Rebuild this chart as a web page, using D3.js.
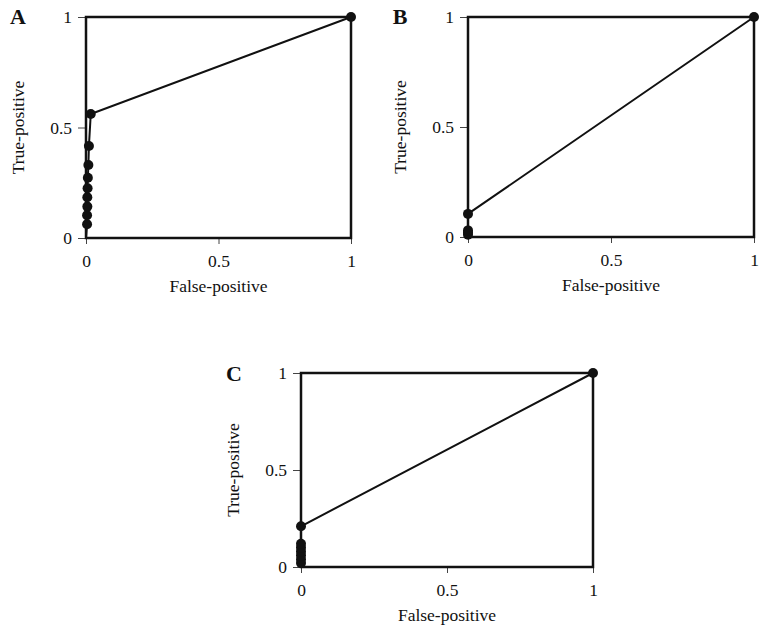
<!DOCTYPE html>
<html>
<head>
<meta charset="utf-8">
<script src="https://cdn.jsdelivr.net/npm/d3@7"></script>
<style>
  body { margin: 0; background: #fff; }
  text { font-family: "Liberation Serif", "DejaVu Serif", serif; fill: #111; }
</style>
</head>
<body>
<svg id="mychart" width="760" height="632"></svg>
<script>
// ROC points per panel (false-positive, true-positive)
const fpA = [0.004, 0.004, 0.005, 0.005, 0.006, 0.007, 0.009, 0.011, 0.018, 1];
const tpA = [0.062, 0.103, 0.142, 0.184, 0.225, 0.273, 0.33, 0.416, 0.561, 1];
const fpB = [0, 0, 0, 0, 1];
const tpB = [0.01, 0.02, 0.03, 0.105, 1];
const fpC = [0, 0, 0, 0, 0, 0, 0, 1];
const tpC = [0.02, 0.04, 0.06, 0.08, 0.10, 0.12, 0.21, 1];
const tickVals = [0, 0.5, 1];
const panelNames = ["A", "B", "C"];

const svg = d3.select("#mychart");

// plot boxes for each panel
const panels = [
  { name: panelNames[0], fp: fpA, tp: tpA, x0: 86, x1: 351, y0: 238, y1: 17, lx: 18, ly: 24 },
  { name: panelNames[1], fp: fpB, tp: tpB, x0: 468, x1: 754, y0: 237, y1: 17, lx: 400, ly: 24 },
  { name: panelNames[2], fp: fpC, tp: tpC, x0: 301, x1: 593, y0: 567, y1: 373, lx: 234, ly: 381 }
];

panels.forEach((p) => {
  const x = d3.scaleLinear().domain([0, 1]).range([p.x0, p.x1]);
  const y = d3.scaleLinear().domain([0, 1]).range([p.y0, p.y1]);
  const g = svg.append("g");

  const fmt = (d) => (d === 0.5 ? "0.5" : d3.format("d")(d));

  const xAxis = g.append("g")
    .attr("transform", `translate(0,${p.y0})`)
    .call(d3.axisBottom(x).tickValues(tickVals).tickFormat(fmt).tickSize(6).tickPadding(11));
  const yAxis = g.append("g")
    .attr("transform", `translate(${p.x0},0)`)
    .call(d3.axisLeft(y).tickValues(tickVals).tickFormat(fmt).tickSize(8).tickPadding(6));
  [xAxis, yAxis].forEach((a) => {
    a.select(".domain").remove();
    a.selectAll(".tick line").attr("stroke", "#444").attr("stroke-width", 1);
    a.selectAll(".tick text").style("font-size", "17.5px").attr("fill", "#111")
      .style("font-family", "'Liberation Serif', serif");
  });

  // frame
  g.append("rect")
    .attr("x", p.x0).attr("y", p.y1)
    .attr("width", p.x1 - p.x0).attr("height", p.y0 - p.y1)
    .attr("fill", "none").attr("stroke", "#111").attr("stroke-width", 2.5);

  const pts = p.fp.map((d, i) => ({ fp: d, tp: p.tp[i] }));
  const line = d3.line().x((d) => x(d.fp)).y((d) => y(d.tp));
  g.append("path")
    .datum([{ fp: 0, tp: 0 }].concat(pts))
    .attr("d", line)
    .attr("fill", "none").attr("stroke", "#111").attr("stroke-width", 2);

  g.selectAll("circle")
    .data(pts)
    .join("circle")
    .attr("cx", (d) => x(d.fp))
    .attr("cy", (d) => y(d.tp))
    .attr("r", 5)
    .attr("fill", "#111");

  // titles
  g.append("text")
    .attr("x", (p.x0 + p.x1) / 2).attr("y", p.y0 + 54)
    .attr("text-anchor", "middle")
    .style("font-size", "17.5px")
    .text("False-positive");
  g.append("text")
    .attr("transform", `translate(${p.x0 - 62},${(p.y0 + p.y1) / 2}) rotate(-90)`)
    .attr("text-anchor", "middle")
    .style("font-size", "17.5px")
    .text("True-positive");
  g.append("text")
    .attr("x", p.lx).attr("y", p.ly)
    .attr("text-anchor", "middle")
    .style("font-size", "22px").style("font-weight", "bold")
    .text(p.name);
});
</script>
</body>
</html>
